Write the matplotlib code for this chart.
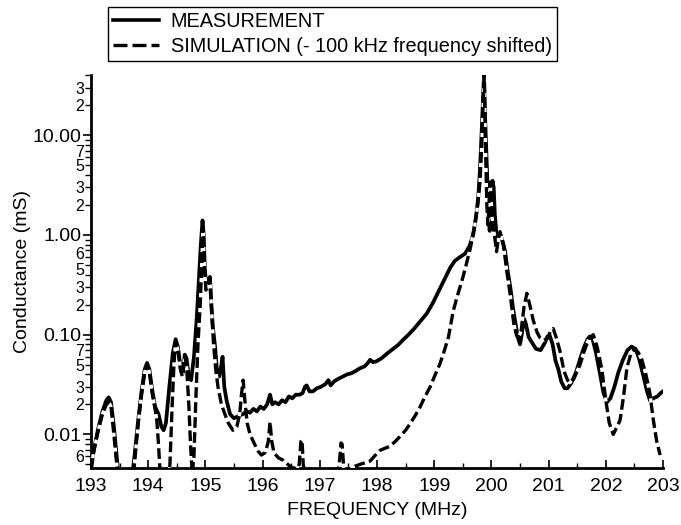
import numpy as np
import matplotlib
matplotlib.use("Agg")
import matplotlib.pyplot as plt
from matplotlib.lines import Line2D
from matplotlib.ticker import FixedLocator, FixedFormatter
import matplotlib.transforms as mtransforms

plt.rcParams['font.family'] = ['Liberation Sans', 'DejaVu Sans']

# ---------------- data ----------------
meas_freq = [193.00, 193.05, 193.12, 193.20, 193.27, 193.31, 193.35, 193.40, 193.45, 193.50,
             193.70, 193.76, 193.82, 193.88, 193.94, 193.98, 194.02, 194.07, 194.12, 194.18,
             194.23, 194.27, 194.31, 194.37, 194.43, 194.48, 194.52, 194.57, 194.60, 194.64,
             194.67, 194.71, 194.75, 194.80, 194.85, 194.89, 194.92, 194.95, 194.97, 194.99,
             195.02, 195.05, 195.08, 195.10, 195.13, 195.17, 195.20, 195.24, 195.28, 195.30,
             195.33, 195.37, 195.43, 195.50, 195.55, 195.60, 195.66, 195.72, 195.78, 195.84,
             195.90, 195.96, 196.02, 196.08, 196.13, 196.17, 196.22, 196.28, 196.34, 196.40,
             196.46, 196.52, 196.58, 196.65, 196.70, 196.74, 196.77, 196.82, 196.88, 196.95,
             197.02, 197.10, 197.15, 197.19, 197.25, 197.32, 197.40, 197.48, 197.55, 197.62,
             197.70, 197.78, 197.84, 197.88, 197.93, 197.99, 198.08, 198.18, 198.28, 198.36,
             198.45, 198.55, 198.65, 198.75, 198.87, 198.98, 199.10, 199.20, 199.28, 199.36,
             199.45, 199.54, 199.62, 199.68, 199.73, 199.77, 199.80, 199.83, 199.86, 199.87,
             199.89, 199.92, 199.95, 199.97, 199.99, 200.02, 200.04, 200.06, 200.09, 200.12,
             200.16, 200.20, 200.24, 200.28, 200.33, 200.38, 200.42, 200.46, 200.50, 200.53,
             200.57, 200.60, 200.65, 200.70, 200.78, 200.86, 200.93, 200.98, 201.02, 201.07,
             201.12, 201.17, 201.22, 201.28, 201.33, 201.40, 201.48, 201.55, 201.62, 201.68,
             201.72, 201.77, 201.83, 201.90, 201.96, 202.02, 202.08, 202.15, 202.22, 202.30,
             202.38, 202.45, 202.52, 202.58, 202.65, 202.72, 202.77, 202.83, 202.90, 202.96,
             203.00]
meas_val = [0.0045, 0.007, 0.011, 0.017, 0.022, 0.0235, 0.021, 0.012, 0.006, 0.003,
            0.003, 0.006, 0.013, 0.026, 0.045, 0.052, 0.045, 0.028, 0.019, 0.016,
            0.012, 0.011, 0.013, 0.030, 0.065, 0.090, 0.075, 0.045, 0.040, 0.063,
            0.058, 0.038, 0.035, 0.06, 0.15, 0.40, 0.80, 1.40, 1.0, 0.45,
            0.30, 0.35, 0.38, 0.22, 0.12, 0.075, 0.045, 0.038, 0.050, 0.060,
            0.030, 0.022, 0.016, 0.0145, 0.015, 0.0155, 0.016, 0.017, 0.0165, 0.018,
            0.017, 0.019, 0.018, 0.020, 0.025, 0.020, 0.021, 0.020, 0.022, 0.021,
            0.024, 0.023, 0.025, 0.025, 0.026, 0.030, 0.031, 0.027, 0.027, 0.029,
            0.030, 0.032, 0.035, 0.031, 0.034, 0.036, 0.038, 0.040, 0.041, 0.043,
            0.046, 0.048, 0.052, 0.056, 0.053, 0.054, 0.058, 0.065, 0.072, 0.078,
            0.088, 0.10, 0.115, 0.135, 0.163, 0.21, 0.29, 0.38, 0.47, 0.55,
            0.60, 0.65, 0.78, 1.00, 1.50, 2.4, 4.5, 11.0, 30.0, 40.0,
            15.0, 5.0, 1.6, 1.1, 2.0, 3.5, 3.0, 1.6, 1.0, 0.92,
            1.0, 0.85, 0.68, 0.45, 0.30, 0.18, 0.13, 0.095, 0.08, 0.10,
            0.145, 0.13, 0.095, 0.085, 0.072, 0.07, 0.082, 0.096, 0.098, 0.08,
            0.055, 0.045, 0.034, 0.029, 0.029, 0.033, 0.042, 0.057, 0.075, 0.09,
            0.096, 0.09, 0.065, 0.040, 0.026, 0.021, 0.023, 0.030, 0.042, 0.056,
            0.070, 0.076, 0.072, 0.058, 0.040, 0.027, 0.022, 0.023, 0.024, 0.026,
            0.027]

sim_freq = [193.00, 193.05, 193.12, 193.20, 193.27, 193.31, 193.35, 193.40, 193.45, 193.50,
            193.72, 193.76, 193.82, 193.88, 193.94, 193.98, 194.02, 194.07, 194.12, 194.15,
            194.18, 194.21, 194.35, 194.38, 194.42, 194.45, 194.48, 194.52, 194.57, 194.60,
            194.64, 194.67, 194.71, 194.74, 194.77, 194.80, 194.83, 194.87, 194.91, 194.94,
            194.96, 194.98, 195.01, 195.05, 195.08, 195.11, 195.14, 195.18, 195.22, 195.28,
            195.34, 195.40, 195.48, 195.55, 195.60, 195.63, 195.66, 195.69, 195.73, 195.78,
            195.85, 195.92, 195.98, 196.05, 196.10, 196.13, 196.16, 196.20, 196.28, 196.36,
            196.44, 196.50, 196.60, 196.64, 196.67, 196.69, 196.71, 196.74, 197.30, 197.34,
            197.37, 197.39, 197.42, 197.50, 197.58, 197.70, 197.80, 197.88, 197.95, 198.05,
            198.15, 198.23, 198.32, 198.40, 198.50, 198.58, 198.67, 198.75, 198.84, 198.93,
            199.02, 199.10, 199.18, 199.25, 199.33, 199.40, 199.48, 199.55, 199.63, 199.71,
            199.76, 199.80, 199.83, 199.86, 199.875, 199.89, 199.92, 199.94, 199.96, 199.98,
            200.01, 200.06, 200.09, 200.12, 200.15, 200.21, 200.27, 200.33, 200.39, 200.44,
            200.48, 200.52, 200.57, 200.62, 200.67, 200.73, 200.80, 200.85, 200.92, 200.98,
            201.04, 201.08, 201.13, 201.20, 201.27, 201.33, 201.37, 201.44, 201.50, 201.55,
            201.62, 201.70, 201.78, 201.85, 201.93, 202.00, 202.06, 202.13, 202.20, 202.25,
            202.31, 202.37, 202.44, 202.51, 202.57, 202.63, 202.70, 202.77, 202.83, 202.89,
            202.95]
sim_val = [0.0045, 0.0068, 0.0105, 0.016, 0.020, 0.021, 0.019, 0.010, 0.005, 0.003,
           0.003, 0.005, 0.012, 0.024, 0.042, 0.050, 0.042, 0.026, 0.018, 0.014,
           0.008, 0.004, 0.003, 0.005, 0.02, 0.05, 0.085, 0.07, 0.043, 0.038,
           0.060, 0.050, 0.020, 0.008, 0.004, 0.006, 0.02, 0.08, 0.20, 0.6,
           1.2, 0.5, 0.28, 0.32, 0.36, 0.17, 0.085, 0.045, 0.030, 0.020,
           0.016, 0.013, 0.011, 0.012, 0.016, 0.025, 0.035, 0.022, 0.013, 0.010,
           0.0082, 0.0068, 0.0062, 0.0066, 0.0085, 0.0134, 0.0085, 0.0065, 0.0058, 0.0055,
           0.0050, 0.0047, 0.0045, 0.0050, 0.0085, 0.0088, 0.0050, 0.0040, 0.0040, 0.0050,
           0.0082, 0.0080, 0.0045, 0.0042, 0.0047, 0.0050, 0.0052, 0.0054, 0.0060, 0.0069,
           0.0073, 0.0076, 0.0085, 0.0095, 0.011, 0.0128, 0.0155, 0.0187, 0.024, 0.030,
           0.040, 0.051, 0.07, 0.095, 0.17, 0.24, 0.34, 0.48, 0.73, 1.26,
           2.0, 3.4, 8.0, 24.0, 38.0, 12.0, 2.0, 1.26, 2.2, 3.4,
           1.5, 0.93, 0.68, 0.9, 1.08, 0.79, 0.43, 0.25, 0.13, 0.098,
           0.095, 0.11, 0.19, 0.26, 0.20, 0.14, 0.105, 0.093, 0.088, 0.092,
           0.11, 0.115, 0.095, 0.068, 0.043, 0.035, 0.033, 0.036, 0.043, 0.050,
           0.068, 0.09, 0.10, 0.075, 0.045, 0.022, 0.013, 0.010, 0.012, 0.014,
           0.024, 0.047, 0.065, 0.072, 0.066, 0.056, 0.040, 0.026, 0.014, 0.0085,
           0.0062]

x_ticks = [193, 194, 195, 196, 197, 198, 199, 200, 201, 202, 203]
y_major = [0.01, 0.1, 1.0, 10.0]
y_major_labels = ['0.01', '0.10', '1.00', '10.00']
y_minor_labels = {0.006: '6', 0.02: '2', 0.03: '3', 0.05: '5', 0.07: '7',
                  0.2: '2', 0.3: '3', 0.5: '5', 0.6: '6',
                  2.0: '2', 3.0: '3', 5.0: '5', 7.0: '7',
                  20.0: '2', 30.0: '3'}

# ---------------- figure ----------------
fig = plt.figure(figsize=(6.81, 5.25), dpi=100)
ax = fig.add_axes([0.1336, 0.1086, 0.840, 0.748])

ax.plot(meas_freq, meas_val, color='black', lw=2.7, solid_joinstyle='round',
        label='MEASUREMENT', zorder=2)
ax.plot(sim_freq, sim_val, color='black', lw=2.4, linestyle=(0, (3.2, 1.3)),
        gapcolor='white', label='SIMULATION (- 100 kHz frequency shifted)', zorder=3)

ax.set_yscale('log')
ax.set_xlim(193, 203)
ax.set_ylim(0.0046, 40)

for s in ['top', 'right']:
    ax.spines[s].set_visible(False)
for s in ['left', 'bottom']:
    ax.spines[s].set_linewidth(2.0)

# x ticks
ax.xaxis.set_major_locator(FixedLocator(x_ticks))
ax.set_xticklabels([str(t) for t in x_ticks])
ax.xaxis.set_minor_locator(FixedLocator([t + 0.5 for t in x_ticks[:-1]]))
ax.tick_params(axis='x', which='major', direction='in', length=6, width=1.2,
               labelsize=14, pad=7)
ax.tick_params(axis='x', which='minor', direction='in', length=3.5, width=1.0)

# y ticks
ax.yaxis.set_major_locator(FixedLocator(y_major))
ax.yaxis.set_major_formatter(FixedFormatter(y_major_labels))
minor_pos = []
for dec in [0.001, 0.01, 0.1, 1.0, 10.0]:
    for k in range(2, 10):
        v = round(k * dec, 6)
        if 0.0046 <= v <= 40:
            minor_pos.append(v)
ax.yaxis.set_minor_locator(FixedLocator(minor_pos))
minor_labels = []
for v in minor_pos:
    lab = ''
    for key, t in y_minor_labels.items():
        if abs(v - key) / key < 1e-6:
            lab = t
    minor_labels.append(lab)
ax.yaxis.set_minor_formatter(FixedFormatter(minor_labels))
ax.tick_params(axis='y', which='major', direction='out', length=6, width=1.2,
               labelsize=14, pad=1)
ax.tick_params(axis='y', which='minor', direction='out', length=4, width=1.0,
               labelsize=11.5, pad=1)

ax.set_xlabel('FREQUENCY (MHz)', fontsize=14, labelpad=5)
ax.set_ylabel('Conductance (mS)', fontsize=14, labelpad=1)

handles = [Line2D([], [], color='black', lw=2.6),
           Line2D([], [], color='black', lw=2.4, linestyle=(0, (4.2, 1.5)))]
labels = ['MEASUREMENT', 'SIMULATION (- 100 kHz frequency shifted)']
leg = fig.legend(handles, labels, loc='upper left', bbox_to_anchor=(0.1586, 0.9867),
                 frameon=True, fancybox=False, edgecolor='black', framealpha=1,
                 fontsize=14.3, handlelength=2.3, handletextpad=0.6,
                 labelspacing=0.3, borderpad=0.25, borderaxespad=0)
leg.get_frame().set_linewidth(1.0)

# nudge the tightly stacked minor labels (0.6 up, 0.5 down) like the reference
fig.canvas.draw()
for tick_val, lab in zip(minor_pos, ax.yaxis.get_minorticklabels()):
    if abs(tick_val - 0.6) < 1e-9:
        lab.set_transform(lab.get_transform() +
                          mtransforms.ScaledTranslation(0, 3 / 72, fig.dpi_scale_trans))
    if abs(tick_val - 0.5) < 1e-9:
        lab.set_transform(lab.get_transform() +
                          mtransforms.ScaledTranslation(0, -3 / 72, fig.dpi_scale_trans))

fig.savefig('out.png', dpi=100)
